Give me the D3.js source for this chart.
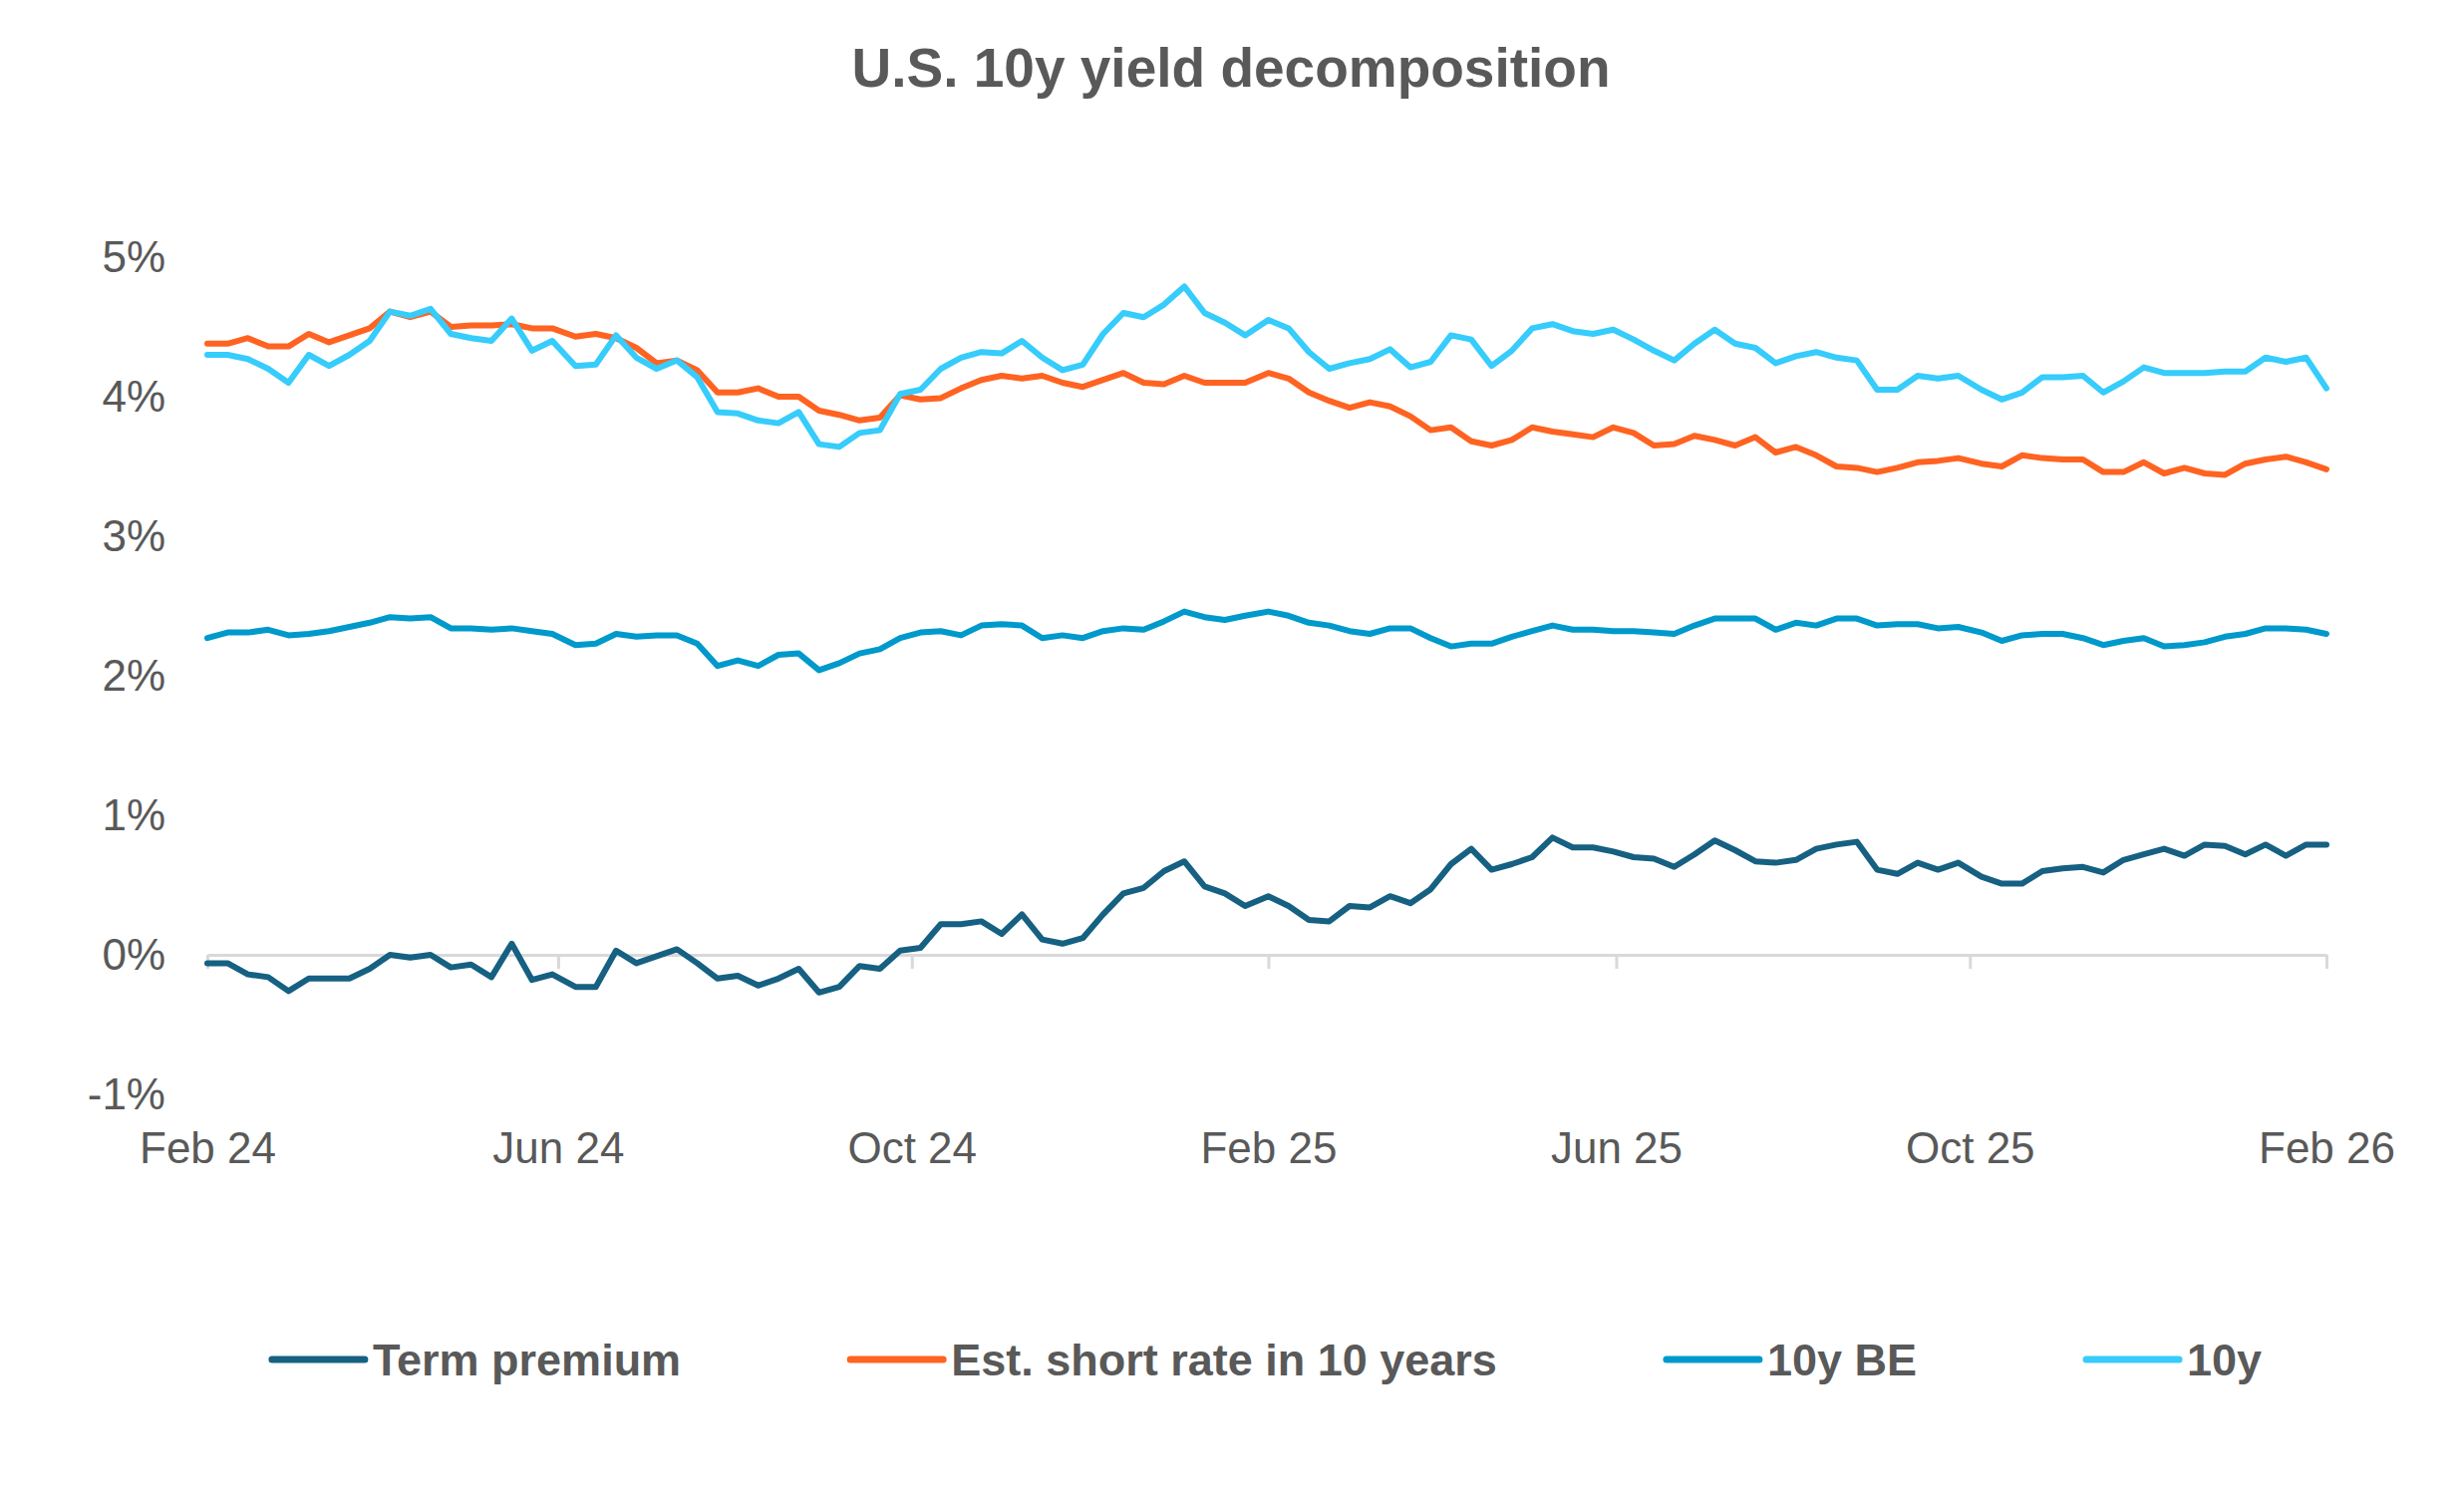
<!DOCTYPE html>
<html>
<head>
<meta charset="utf-8">
<script src="https://cdn.jsdelivr.net/npm/d3@7"></script>
<style>
  html, body { margin: 0; padding: 0; background: #fff; }
  svg { display: block; font-family: "Liberation Sans", Arial, sans-serif; }
</style>
</head>
<body>
<div id="chart"></div>
<script>
// weekly readings, Feb 2024 -> Feb 2026 (in %)
const termPremium = [
  -0.06, -0.06, -0.14, -0.16, -0.26, -0.17, -0.17, -0.17, -0.10, 0.00,
  -0.02, 0.00, -0.09, -0.07, -0.16, 0.08, -0.18, -0.14, -0.23, -0.23,
  0.03, -0.06, -0.01, 0.04, -0.06, -0.17, -0.15, -0.22, -0.17, -0.10,
  -0.27, -0.23, -0.08, -0.10, 0.03, 0.05, 0.22, 0.22, 0.24, 0.15,
  0.29, 0.11, 0.08, 0.12, 0.29, 0.44, 0.48, 0.60, 0.67, 0.49,
  0.44, 0.35, 0.42, 0.35, 0.25, 0.24, 0.35, 0.34, 0.42, 0.37,
  0.47, 0.65, 0.76, 0.61, 0.65, 0.70, 0.84, 0.77, 0.77, 0.74,
  0.70, 0.69, 0.63, 0.72, 0.82, 0.75, 0.67, 0.66, 0.68, 0.76,
  0.79, 0.81, 0.61, 0.58, 0.66, 0.61, 0.66, 0.56, 0.51, 0.51,
  0.60, 0.62, 0.63, 0.59, 0.68, 0.72, 0.76, 0.71, 0.79, 0.78,
  0.72, 0.79, 0.71, 0.79, 0.79
]
const shortRate = [
  4.38, 4.38, 4.42, 4.36, 4.36, 4.45, 4.39, 4.44, 4.49, 4.61,
  4.57, 4.61, 4.50, 4.51, 4.51, 4.52, 4.49, 4.49, 4.43, 4.45,
  4.42, 4.35, 4.24, 4.26, 4.19, 4.03, 4.03, 4.06, 4.00, 4.00,
  3.90, 3.87, 3.83, 3.85, 4.01, 3.98, 3.99, 4.06, 4.12, 4.15,
  4.13, 4.15, 4.10, 4.07, 4.12, 4.17, 4.10, 4.09, 4.15, 4.10,
  4.10, 4.10, 4.17, 4.13, 4.03, 3.97, 3.92, 3.96, 3.93, 3.86,
  3.76, 3.78, 3.68, 3.65, 3.69, 3.78, 3.75, 3.73, 3.71, 3.78,
  3.74, 3.65, 3.66, 3.72, 3.69, 3.65, 3.71, 3.60, 3.64, 3.58,
  3.50, 3.49, 3.46, 3.49, 3.53, 3.54, 3.56, 3.52, 3.50, 3.58,
  3.56, 3.55, 3.55, 3.46, 3.46, 3.53, 3.45, 3.49, 3.45, 3.44,
  3.52, 3.55, 3.57, 3.53, 3.48
]
const breakeven = [
  2.27, 2.31, 2.31, 2.33, 2.29, 2.30, 2.32, 2.35, 2.38, 2.42,
  2.41, 2.42, 2.34, 2.34, 2.33, 2.34, 2.32, 2.30, 2.22, 2.23,
  2.30, 2.28, 2.29, 2.29, 2.23, 2.07, 2.11, 2.07, 2.15, 2.16,
  2.04, 2.09, 2.16, 2.19, 2.27, 2.31, 2.32, 2.29, 2.36, 2.37,
  2.36, 2.27, 2.29, 2.27, 2.32, 2.34, 2.33, 2.39, 2.46, 2.42,
  2.40, 2.43, 2.46, 2.43, 2.38, 2.36, 2.32, 2.30, 2.34, 2.34,
  2.27, 2.21, 2.23, 2.23, 2.28, 2.32, 2.36, 2.33, 2.33, 2.32,
  2.32, 2.31, 2.30, 2.36, 2.41, 2.41, 2.41, 2.33, 2.38, 2.36,
  2.41, 2.41, 2.36, 2.37, 2.37, 2.34, 2.35, 2.31, 2.25, 2.29,
  2.30, 2.30, 2.27, 2.22, 2.25, 2.27, 2.21, 2.22, 2.24, 2.28,
  2.30, 2.34, 2.34, 2.33, 2.30
]
const tenYear = [
  4.30, 4.30, 4.27, 4.20, 4.10, 4.30, 4.22, 4.30, 4.40, 4.61,
  4.58, 4.63, 4.45, 4.42, 4.40, 4.56, 4.33, 4.40, 4.22, 4.23,
  4.44, 4.28, 4.20, 4.26, 4.14, 3.89, 3.88, 3.83, 3.81, 3.89,
  3.66, 3.64, 3.74, 3.76, 4.02, 4.05, 4.20, 4.28, 4.32, 4.31,
  4.40, 4.28, 4.19, 4.23, 4.45, 4.60, 4.57, 4.66, 4.79, 4.60,
  4.53, 4.44, 4.55, 4.49, 4.32, 4.20, 4.24, 4.27, 4.34, 4.21,
  4.25, 4.44, 4.41, 4.22, 4.33, 4.49, 4.52, 4.47, 4.45, 4.48,
  4.41, 4.33, 4.26, 4.38, 4.48, 4.38, 4.35, 4.24, 4.29, 4.32,
  4.28, 4.26, 4.05, 4.05, 4.15, 4.13, 4.15, 4.05, 3.98, 4.03,
  4.14, 4.14, 4.15, 4.03, 4.11, 4.21, 4.17, 4.17, 4.17, 4.18,
  4.18, 4.28, 4.25, 4.28, 4.06
]

const seriesNames = ['Term premium', 'Est. short rate in 10 years', '10y BE', '10y']
const xTickDates = ['2024-02-01', '2024-06-01', '2024-10-01', '2025-02-01', '2025-06-01', '2025-10-01', '2026-02-01']
const yTicks = [-1, 0, 1, 2, 3, 4, 5]

const colors = ['#166082', '#FF6321', '#0099CB', '#36CCFB']
const textColor = '#595959'

const chartWidth = 2472
const chartHeight = 1510
const plotLeft = 208
const plotRight = 2334
const plotTop = 258
const plotBottom = 1098

const parse = d3.timeParse('%Y-%m-%d')
const startDate = parse('2024-02-01')
const endDate = parse('2026-02-01')
const totalDays = d3.timeDay.count(startDate, endDate)
const n = termPremium.length
const dates = d3.range(n).map(i => d3.timeDay.offset(startDate, Math.round(i * totalDays / (n - 1))))

const series = [termPremium, shortRate, breakeven, tenYear].map((values, i) => ({
  name: seriesNames[i],
  color: colors[i],
  values: values.map((v, j) => ({date: dates[j], value: v}))
}))

const x = d3.scaleTime().domain([startDate, endDate]).range([plotLeft, plotRight])
const y = d3.scaleLinear().domain([-1, 5]).range([plotBottom, plotTop])

const svg = d3.select('#chart')
  .append('svg')
  .attr('width', chartWidth)
  .attr('height', chartHeight)

svg.append('rect')
  .attr('width', chartWidth)
  .attr('height', chartHeight)
  .attr('fill', '#fff')

svg.append('text')
  .attr('x', 1235)
  .attr('y', 87)
  .attr('text-anchor', 'middle')
  .attr('font-size', 55)
  .attr('font-weight', 'bold')
  .attr('fill', textColor)
  .text('U.S. 10y yield decomposition')

// y axis: labels only
const yAxis = svg.append('g')
  .attr('transform', `translate(${plotLeft}, 0)`)
  .call(d3.axisLeft(y).tickValues(yTicks).tickSize(0).tickPadding(42).tickFormat(d => d + '%'))
yAxis.select('.domain').remove()
yAxis.selectAll('text')
  .attr('font-size', 44)
  .attr('font-family', '"Liberation Sans", Arial, sans-serif')
  .attr('fill', textColor)

// x axis sits on the zero line, labels pushed below the plot
const xAxis = svg.append('g')
  .attr('transform', `translate(0, ${y(0)})`)
  .call(d3.axisBottom(x)
    .tickValues(xTickDates.map(parse))
    .tickSize(14)
    .tickSizeOuter(0)
    .tickPadding(164)
    .tickFormat(d3.timeFormat('%b %y')))
xAxis.select('.domain')
  .attr('stroke', '#D9D9D9')
  .attr('stroke-width', 3)
xAxis.selectAll('.tick line')
  .attr('stroke', '#D9D9D9')
  .attr('stroke-width', 3)
xAxis.selectAll('text')
  .attr('font-size', 44)
  .attr('font-family', '"Liberation Sans", Arial, sans-serif')
  .attr('fill', textColor)

const line = d3.line()
  .x(d => x(d.date))
  .y(d => y(d.value))

svg.append('g')
  .selectAll('path')
  .data(series)
  .enter()
  .append('path')
  .attr('d', d => line(d.values))
  .attr('fill', 'none')
  .attr('stroke', d => d.color)
  .attr('stroke-width', 6)
  .attr('stroke-linejoin', 'round')
  .attr('stroke-linecap', 'round')

// legend, centred under the plot
const legend = svg.append('g')
const lineLen = 93
const textGap = 8
const itemGap = 170
const items = legend.selectAll('g')
  .data(series)
  .enter()
  .append('g')

items.append('line')
  .attr('x1', 0)
  .attr('x2', lineLen)
  .attr('y1', 1364)
  .attr('y2', 1364)
  .attr('stroke', d => d.color)
  .attr('stroke-width', 7)
  .attr('stroke-linecap', 'round')

items.append('text')
  .attr('x', lineLen + textGap)
  .attr('y', 1380)
  .attr('font-size', 45)
  .attr('font-weight', 'bold')
  .attr('fill', textColor)
  .text(d => d.name)

let offset = 0
const offsets = []
items.each(function () {
  offsets.push(offset)
  const w = lineLen + textGap + d3.select(this).select('text').node().getComputedTextLength()
  offset += w + itemGap
})
const total = offset - itemGap
const legendStart = (plotLeft + plotRight) / 2 - total / 2
items.attr('transform', (d, i) => `translate(${legendStart + offsets[i]}, 0)`)
</script>
</body>
</html>
